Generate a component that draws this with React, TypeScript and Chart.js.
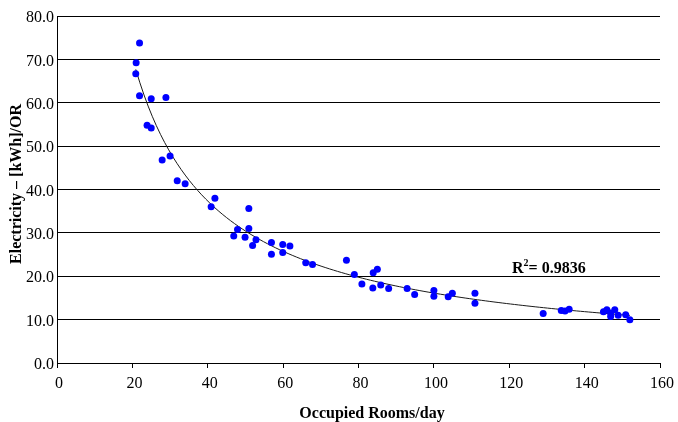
import React, { useEffect, useRef } from "react";
import { Chart, registerables } from "chart.js";

Chart.register(...registerables);

// Occupied rooms per day (x) and electricity per occupied room (y)
const roomsPerDay = [
  21.9, 21.0, 20.9, 21.9, 25.0, 28.9, 23.9, 25.0, 27.9, 30.0, 31.9, 34.0, 40.9, 41.9, 50.9,
  46.9, 47.9, 49.9, 50.9, 51.9, 52.8, 56.9, 56.9, 59.9, 59.9, 61.8, 66.0, 67.8,
  76.8, 78.9, 80.9, 83.9, 85.0, 83.8, 85.9, 88.0, 92.9, 94.9, 100.0, 100.0, 103.8, 104.9, 110.9, 110.9,
  129.0, 133.8, 134.8, 135.9, 145.0, 145.9, 146.9, 146.9, 148.0, 148.9, 150.9, 152.0,
];
const kwhPerOR = [
  73.8, 69.2, 66.7, 61.6, 60.9, 61.2, 54.8, 54.2, 46.8, 47.7, 42.0, 41.3, 36.0, 38.0, 35.6,
  29.3, 30.8, 29.0, 31.0, 27.1, 28.4, 27.8, 25.1, 27.3, 25.5, 27.0, 23.1, 22.7,
  23.7, 20.4, 18.2, 20.8, 21.6, 17.3, 18.0, 17.2, 17.2, 15.8, 16.7, 15.4, 15.3, 16.1, 16.1, 13.8,
  11.4, 12.1, 12.0, 12.4, 11.8, 12.3, 11.5, 10.7, 12.3, 11.0, 11.1, 10.0,
];

const X_TICKS = [0, 20, 40, 60, 80, 100, 120, 140, 160];
const Y_TICKS = [0, 10, 20, 30, 40, 50, 60, 70, 80];
const X_TITLE = "Occupied Rooms/day";
const Y_TITLE = "Electricity \u2013 [kWh]/OR";
const R2_TEXT = "= 0.9836";

const FONT = "'Liberation Serif', 'Times New Roman', serif";

// Power trendline (least squares on ln y = ln a + b ln x), like a spreadsheet trendline
function powerFit(xs: number[], ys: number[]) {
  const n = xs.length;
  let sx = 0, sy = 0, sxx = 0, sxy = 0;
  for (let i = 0; i < n; i++) {
    const lx = Math.log(xs[i]);
    const ly = Math.log(ys[i]);
    sx += lx; sy += ly; sxx += lx * lx; sxy += lx * ly;
  }
  const b = (n * sxy - sx * sy) / (n * sxx - sx * sx);
  const a = Math.exp((sy - b * sx) / n);
  return { a, b };
}

function trendPoints() {
  const { a, b } = powerFit(roomsPerDay, kwhPerOR);
  const xmin = Math.min(...roomsPerDay);
  const xmax = Math.max(...roomsPerDay);
  const pts: { x: number; y: number }[] = [];
  const steps = 120;
  for (let i = 0; i <= steps; i++) {
    const x = xmin + ((xmax - xmin) * i) / steps;
    pts.push({ x, y: a * Math.pow(x, b) });
  }
  return pts;
}

const textPlugin = {
  id: "textPlugin",
  afterDraw(chart: any) {
    const ctx = chart.ctx as CanvasRenderingContext2D;
    ctx.save();
    ctx.fillStyle = "#000";
    ctx.textBaseline = "alphabetic";
    ctx.font = `bold 16px ${FONT}`;
    ctx.textAlign = "center";
    ctx.fillText(X_TITLE, 372, 418);
    ctx.save();
    ctx.translate(21, 184);
    ctx.rotate(-Math.PI / 2);
    ctx.fillText(Y_TITLE, 0, 0);
    ctx.restore();
    ctx.textAlign = "left";
    let x = 512;
    const base = 273;
    ctx.font = `bold 16px ${FONT}`;
    ctx.fillText("R", x, base);
    x += ctx.measureText("R").width;
    ctx.font = `bold 10px ${FONT}`;
    ctx.fillText("2", x, base - 7);
    x += ctx.measureText("2").width;
    ctx.font = `bold 16px ${FONT}`;
    ctx.fillText(R2_TEXT, x, base);
    ctx.restore();
  },
};

export default function App() {
  const ref = useRef<HTMLCanvasElement | null>(null);
  useEffect(() => {
    if (!ref.current) return;
    const chart = new Chart(ref.current, {
      type: "scatter",
      data: {
        datasets: [
          {
            label: "data",
            data: roomsPerDay.map((x, i) => ({ x, y: kwhPerOR[i] })),
            backgroundColor: "#0000ff",
            borderWidth: 0,
            pointRadius: 3.5,
            order: 0,
          },
          {
            label: "trend",
            data: trendPoints(),
            showLine: true,
            borderColor: "#1a1a1a",
            borderWidth: 1,
            pointRadius: 0,
            fill: false,
            order: 1,
          } as any,
        ],
      },
      options: {
        responsive: false,
        animation: false,
        devicePixelRatio: 1,
        layout: { padding: { top: 16, right: 17, left: 0, bottom: 0 } },
        plugins: { legend: { display: false }, tooltip: { enabled: false } },
        scales: {
          x: {
            type: "linear",
            min: 0,
            max: 160,
            afterFit: (s: any) => { s.height = 59; },
            afterBuildTicks: (s: any) => { s.ticks = X_TICKS.map((v) => ({ value: v })); },
            grid: { drawOnChartArea: false, drawTicks: true, tickLength: 5, color: "#000", lineWidth: 1 },
            border: { display: true, color: "#000", width: 1 },
            ticks: {
              color: "#000",
              font: { family: FONT, size: 16 },
              padding: 6,
              labelOffset: 2,
              maxRotation: 0,
              callback: (v: any) => String(v),
            },
          },
          y: {
            type: "linear",
            min: 0,
            max: 80,
            afterFit: (s: any) => { s.width = 57; },
            afterBuildTicks: (s: any) => { s.ticks = Y_TICKS.map((v) => ({ value: v })); },
            grid: { drawTicks: false, color: "#000", lineWidth: 1 },
            border: { display: true, color: "#000", width: 1 },
            ticks: {
              color: "#000",
              font: { family: FONT, size: 16 },
              padding: 3,
              labelOffset: 2,
              callback: (v: any) => Number(v).toFixed(1),
            },
          },
        },
      },
      plugins: [textPlugin],
    });
    return () => chart.destroy();
  }, []);
  return (
    <div style={{ position: "absolute", left: 0, top: 0, width: 678, height: 422, background: "#fff" }}>
      <canvas ref={ref} width={678} height={422} style={{ display: "block" }} />
    </div>
  );
}
